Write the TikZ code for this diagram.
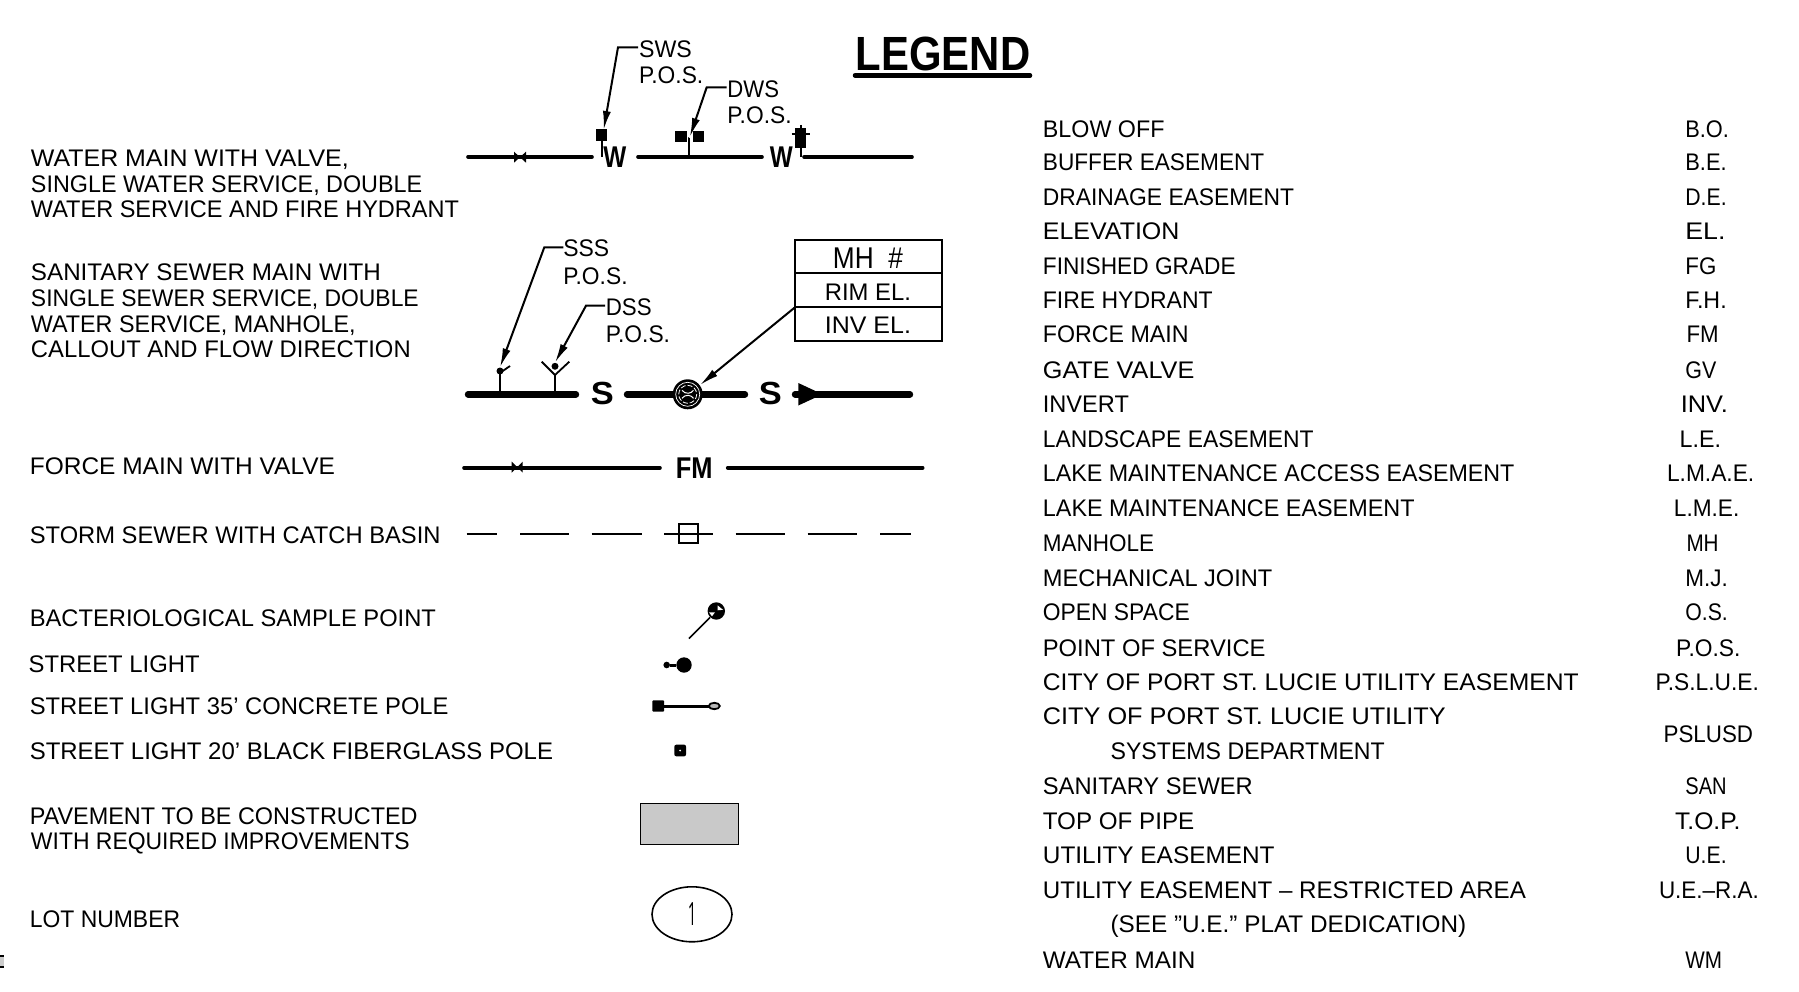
\documentclass[tikz,border=0pt]{standalone}
\usepackage{fontspec}
\usepackage{graphicx}
\setmainfont{Liberation Sans}
\newfontfamily\digitfont{Open Sans}
\usetikzlibrary{arrows.meta}
\newcounter{tn}
\newcommand\normf{\fontsize{24}{24}\selectfont}
\newcommand\mhf{\fontsize{30}{30}\selectfont}
\newcommand\onef{\digitfont\fontsize{32}{32}\selectfont}
\newcommand\bldf{\fontsize{30}{30}\selectfont\bfseries}
\newcommand\sbf{\fontsize{32}{32}\selectfont\bfseries}
\newcommand\ttlf{\fontsize{48}{48}\selectfont\bfseries}
% \tx[font]{x1}{x2}{yc}{text}  -- coordinates measured on the 1568-wide view
\newcommand\tx[5][\normf]{%
  \stepcounter{tn}%
  \pgfmathsetmacro\tw{(#3-#2)*1.1473}%
  \pgfmathsetmacro\tX{#2*1.1473}%
  \pgfmathsetmacro\tY{#4*1.1473+9}%
  \node[lbl] (t\thetn) at (\tX,\tY) {\resizebox{\tw pt}{\height}{#1#5}};}
\tikzset{
  lbl/.style={inner sep=0pt,outer sep=0pt,anchor=base west},
  main/.style={line width=3.6pt,line cap=round},
  mainb/.style={line width=6.4pt,line cap=round},
  storm/.style={line width=2pt},
  stem/.style={line width=2pt},
  leader/.style={line width=2pt,-{Latex[length=19pt,width=8pt]}},
  sym/.style={fill=black,draw=none},
}
\begin{document}
\begin{tikzpicture}[x=1pt,y=-1pt]
\fill[white] (0,0) rectangle (1799,992);
\path[use as bounding box] (0,0) rectangle (1799,992);

% ---------- title
\tx[\ttlf]{746}{898}{53.2}{LEGEND}
\draw[line width=4.5pt,line cap=round] (855,75.5) -- (1030,75.5);

% ---------- left labels
\tx{27}{304}{137}{WATER MAIN WITH VALVE,}
\tx{27}{368}{160}{SINGLE WATER SERVICE, DOUBLE}
\tx{27}{400}{182}{WATER SERVICE AND FIRE HYDRANT}
\tx{27}{332}{237}{SANITARY SEWER MAIN WITH}
\tx{27}{365}{259}{SINGLE SEWER SERVICE, DOUBLE}
\tx{27}{310}{282}{WATER SERVICE, MANHOLE,}
\tx{27}{358}{304}{CALLOUT AND FLOW DIRECTION}
\tx{26}{292}{406}{FORCE MAIN WITH VALVE}
\tx{26}{384}{466}{STORM SEWER WITH CATCH BASIN}
\tx{26}{380}{538}{BACTERIOLOGICAL SAMPLE POINT}
\tx{25}{174}{578}{STREET LIGHT}
\tx{26}{391}{615}{STREET LIGHT 35’ CONCRETE POLE}
\tx{26}{482}{654}{STREET LIGHT 20’ BLACK FIBERGLASS POLE}
\tx{26}{364}{711}{PAVEMENT TO BE CONSTRUCTED}
\tx{27}{357}{733}{WITH REQUIRED IMPROVEMENTS}
\tx{26}{157}{801}{LOT NUMBER}

% ---------- right table
\tx{909}{1015}{112}{BLOW OFF}      \tx{1469}{1507}{112}{B.O.}
\tx{909}{1102}{141}{BUFFER EASEMENT} \tx{1469}{1505}{141}{B.E.}
\tx{909}{1128}{171}{DRAINAGE EASEMENT} \tx{1469}{1505}{171}{D.E.}
\tx{909}{1028}{201}{ELEVATION}     \tx{1469}{1504}{201}{EL.}
\tx{909}{1077}{231}{FINISHED GRADE} \tx{1469}{1496}{231}{FG}
\tx{909}{1057}{261}{FIRE HYDRANT}  \tx{1469}{1505}{261}{F.H.}
\tx{909}{1036}{291}{FORCE MAIN}    \tx{1470}{1498}{291}{FM}
\tx{909}{1041}{322}{GATE VALVE}    \tx{1469}{1496}{322}{GV}
\tx{909}{984}{352}{INVERT}         \tx{1465}{1506}{352}{INV.}
\tx{909}{1145}{382}{LANDSCAPE EASEMENT} \tx{1464}{1500}{382}{L.E.}
\tx{909}{1320}{412}{LAKE MAINTENANCE ACCESS EASEMENT} \tx{1453}{1529}{412}{L.M.A.E.}
\tx{909}{1233}{442}{LAKE MAINTENANCE EASEMENT} \tx{1459}{1516}{442}{L.M.E.}
\tx{909}{1006}{473}{MANHOLE}       \tx{1470}{1498}{473}{MH}
\tx{909}{1109}{503}{MECHANICAL JOINT} \tx{1469}{1506}{503}{M.J.}
\tx{909}{1037}{533}{OPEN SPACE}    \tx{1469}{1506}{533}{O.S.}
\tx{909}{1103}{564}{POINT OF SERVICE} \tx{1461}{1517}{564}{P.O.S.}
\tx{909}{1376}{594}{CITY OF PORT ST. LUCIE UTILITY EASEMENT} \tx{1443}{1533}{594}{P.S.L.U.E.}
\tx{909}{1260}{624}{CITY OF PORT ST. LUCIE UTILITY}
\tx{968}{1207}{654}{SYSTEMS DEPARTMENT} \tx{1450}{1528}{639}{PSLUSD}
\tx{909}{1092}{685}{SANITARY SEWER} \tx{1469}{1505}{685}{SAN}
\tx{909}{1041}{715}{TOP OF PIPE}   \tx{1460}{1517}{715}{T.O.P.}
\tx{909}{1111}{745}{UTILITY EASEMENT} \tx{1469}{1505}{745}{U.E.}
\tx{909}{1330}{775}{UTILITY EASEMENT – RESTRICTED AREA} \tx{1446}{1533}{775}{U.E.–R.A.}
\tx{968}{1278}{805}{(SEE ”U.E.” PLAT DEDICATION)}
\tx{909}{1042}{836}{WATER MAIN}    \tx{1469}{1501}{836}{WM}

% ---------- water main row
\draw[main] (468,157) -- (592,157);
\draw[main] (638,157) -- (762,157);
\draw[main] (804,157) -- (912,157);
\fill (514,151.7) -- (526,162.7) -- (526,151.7) -- (514,162.7) -- cycle;
\tx[\bldf]{526}{546}{138.4}{W}
\tx[\bldf]{671}{691}{138.4}{W}
\tx{557}{603}{42}{SWS} \tx{557}{613}{65}{P.O.S.}
\tx{634}{679}{77}{DWS} \tx{634}{690}{100}{P.O.S.}
% single service
\node[sym,minimum width=11pt,minimum height=11.4pt,inner sep=0pt] (swsq) at (601.2,135) {};
\draw[stem] (swsq.south) ++(0.6,0) -- (601.8,157);
\coordinate (swsA) at (638,47.3);
\coordinate (swsB) at (618,47.3);
\draw[leader] (swsA) -- (swsB) -- (603.6,130);
% double service
\node[sym,minimum width=11.6pt,minimum height=10.7pt,inner sep=0pt] (dws1) at (680.9,136.4) {};
\node[sym,minimum width=11pt,minimum height=10.7pt,inner sep=0pt] (dws2) at (698.8,136.4) {};
\draw[stem] (689.3,137) -- (689.3,157);
\coordinate (dwsA) at (726.7,87.3);
\coordinate (dwsB) at (706.7,87.3);
\draw[leader] (dwsA) -- (dwsB) -- (689.8,137);
\fill[white] (689.3,137) circle[radius=1];
% hydrant
\node[sym,minimum width=11pt,minimum height=20pt,inner sep=0pt] (hyd) at (800.5,138.3) {};
\draw[stem] (791.7,134) -- (810,134);
\draw[stem] (800.7,125) -- (800.7,156.7);

% ---------- sanitary row
\draw[mainb] (468,394.3) -- (576,394.3);
\draw[mainb] (627,394.3) -- (745,394.3);
\draw[mainb] (795,394.3) -- (910,394.3);
\tx[\sbf]{515}{535}{344.6}{S}
\tx[\sbf]{661.5}{681.5}{344.6}{S}
\fill (798.3,383) -- (822.5,394.3) -- (798.3,405.5) -- cycle;
\tx{491}{531}{216}{SSS} \tx{491}{547}{240}{P.O.S.}
\tx{528}{568}{267}{DSS} \tx{528}{584}{291}{P.O.S.}
% sewer service
\draw[stem] (500,371) -- (500,394);
\node[sym,circle,minimum size=7pt,inner sep=0pt] (sss) at (500,371) {};
\draw[line width=1.8pt] (502,371.5) -- (510,366);
\coordinate (sssA) at (563.3,247.3);
\coordinate (sssB) at (544.3,247.3);
\draw[leader] (sssA) -- (sssB) -- (sss.north);
% double sewer service
\draw[stem] (555,375) -- (555,394);
\draw[line width=1.8pt] (541.7,361.7) -- (555,375) -- (569.3,361.7);
\node[sym,circle,minimum size=7pt,inner sep=0pt] (dss) at (555,366.3) {};
\coordinate (dssA) at (605,305.7);
\coordinate (dssB) at (586,305.7);
\draw[leader] (dssA) -- (dssB) -- (dss.north);
% manhole
\node[sym,circle,minimum size=30pt,inner sep=0pt] (mh) at (687.7,394.3) {};
\draw[white,line width=0.7pt] (mh.center) circle[radius=12];
\draw[white,line width=0.8pt,dash pattern=on 5pt off 2pt] (mh.center) circle[radius=9];
\draw[white,line width=1pt] (682,390.3) arc[start angle=145,end angle=35,radius=7];
\draw[white,line width=1pt] (682,398.3) arc[start angle=215,end angle=325,radius=7];
% callout box
\node[draw,line width=1.8pt,minimum width=146.7pt,minimum height=100.7pt,inner sep=0pt] (box) at (868.3,290.4) {};
\draw[line width=1.8pt] (795,273.3) -- (941.7,273.3);
\draw[line width=1.8pt] (795,307.3) -- (941.7,307.3);
\coordinate (boxL) at (795,307.3);
\tx[\mhf]{726}{787}{226}{MH\ \ \#}
\tx{719}{794}{254}{RIM EL.}
\tx{719}{794}{283}{INV EL.}
\draw[leader] (boxL) -- (700,385);

% ---------- force main row
\draw[main] (464,467.7) -- (660,467.7);
\draw[main] (727.7,467.7) -- (922.7,467.7);
\fill (511.7,461.7) -- (522.7,472.7) -- (522.7,461.7) -- (511.7,472.7) -- cycle;
\tx[\bldf]{589}{621}{409}{FM}

% ---------- storm row
\draw[storm] (466.7,533.6) -- (497.3,533.6);
\draw[storm] (520,533.6) -- (569.3,533.6);
\draw[storm] (591.7,533.6) -- (641.7,533.6);
\draw[storm] (664,533.6) -- (713.3,533.6);
\draw[storm] (735.7,533.6) -- (785,533.6);
\draw[storm] (807.7,533.6) -- (857.3,533.6);
\draw[storm] (880,533.6) -- (910.7,533.6);
\node[draw,line width=1.8pt,minimum width=19pt,minimum height=18.7pt,inner sep=0pt] (cb) at (688.8,533.6) {};

% ---------- sample point
\node[sym,circle,minimum size=17.4pt,inner sep=0pt] (bac) at (716.3,611) {};
\coordinate (bacE) at (689,638.6);
\draw[line width=1.6pt] (bacE) -- (bac);
\fill[white] (717.5,605.3) -- (723,609.8) -- (717.5,610.3) -- cycle;
\fill[white] (709,612.3) -- (715,612.3) -- (712,616.3) -- cycle;

% ---------- street lights
\node[sym,circle,minimum size=15.4pt,inner sep=0pt] (sl1) at (684,665) {};
\node[sym,circle,minimum size=6.6pt,inner sep=0pt] (sl2) at (666.7,665) {};
\draw[line width=3pt] (sl2) -- (sl1);
\node[sym,rounded corners=1pt,minimum width=11.7pt,minimum height=11.4pt,inner sep=0pt] (p35) at (658.2,706) {};
\coordinate (l35) at (709,706);
\draw[line width=3pt] (p35) -- (l35);
\draw[line width=1.8pt,fill=gray!55] (714.3,706) ellipse[x radius=5.5,y radius=3.2];
\node[sym,rounded corners=2pt,minimum width=11.7pt,minimum height=11.7pt,inner sep=0pt] (p20) at (680.2,750.5) {};
\fill[white] (p20) circle[radius=1];

% ---------- pavement & lot number
\node[draw,line width=1.6pt,fill=black!21,minimum width=98pt,minimum height=41pt,inner sep=0pt] (pav) at (689.3,823.8) {};
\draw[line width=1.6pt] (692,914.3) ellipse[x radius=40,y radius=27.5];
\tx[\onef]{599.5}{607}{799}{1}

% ---------- sheet artefact at lower left
\fill[black!20] (0,956) rectangle (4,967);
\draw[line width=1.5pt] (0,956) -- (4,956) (0,967) -- (4,967);
\end{tikzpicture}
\end{document}
